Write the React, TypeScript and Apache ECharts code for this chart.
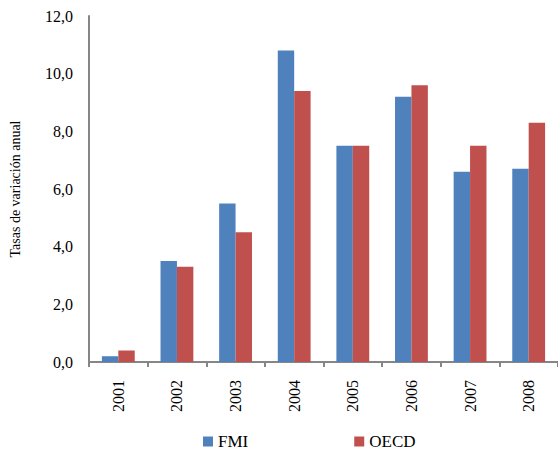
import React, { useEffect, useRef } from "react";
import * as echarts from "echarts";

const years = ["2001", "2002", "2003", "2004", "2005", "2006", "2007", "2008"];
const fmi = [0.2, 3.5, 5.5, 10.8, 7.5, 9.2, 6.6, 6.7];
const oecd = [0.4, 3.3, 4.5, 9.4, 7.5, 9.6, 7.5, 8.3];
const seriesNames = ["FMI", "OECD"];
const yAxisTitle = "Tasas de variación anual";

const FONT = "'Liberation Serif', 'Times New Roman', serif";

export default function App() {
  const ref = useRef<HTMLDivElement>(null);
  useEffect(() => {
    if (!ref.current) return;
    const chart = echarts.init(ref.current, null, { renderer: "svg" });
    chart.setOption({
      animation: false,
      backgroundColor: "#ffffff",
      textStyle: { fontFamily: FONT },
      grid: { left: 84, right: 0, top: 16, bottom: 91, containLabel: false },
      legend: {
        data: seriesNames,
        left: 203,
        top: 433,
        padding: 0,
        itemWidth: 10,
        itemHeight: 10,
        itemGap: 106,
        icon: "rect",
        textStyle: { fontFamily: FONT, fontSize: 17, lineHeight: 17, color: "#000" },
      },
      xAxis: {
        type: "category",
        data: years,
        axisLine: { lineStyle: { color: "#868686", width: 2 } },
        axisTick: { show: true, length: 5, lineStyle: { color: "#868686", width: 2 } },
        axisLabel: {
          rotate: 90,
          margin: 18,
          fontSize: 16,
          fontFamily: FONT,
          color: "#000",
        },
      },
      yAxis: {
        type: "value",
        min: 0,
        max: 12,
        interval: 2,
        name: yAxisTitle,
        nameLocation: "middle",
        nameRotate: 90,
        nameGap: 67,
        nameTextStyle: { fontFamily: FONT, fontSize: 14, color: "#000" },
        splitLine: { show: false },
        axisLine: { show: true, lineStyle: { color: "#868686", width: 2 } },
        axisTick: { show: false },
        axisLabel: {
          margin: 16,
          fontSize: 16,
          fontFamily: FONT,
          color: "#000",
          formatter: (v: number) => v.toFixed(1).replace(".", ","),
        },
      },
      series: [
        {
          name: seriesNames[0],
          type: "bar",
          data: fmi,
          itemStyle: { color: "#4F81BD" },
          barGap: "0%",
          barCategoryGap: "44%",
        },
        {
          name: seriesNames[1],
          type: "bar",
          data: oecd,
          itemStyle: { color: "#C0504D" },
          barGap: "0%",
          barCategoryGap: "44%",
        },
      ],
    });
    return () => chart.dispose();
  }, []);
  return (
    <div
      ref={ref}
      style={{ position: "fixed", left: 0, top: 0, width: 558, height: 453, background: "#fff" }}
    />
  );
}
